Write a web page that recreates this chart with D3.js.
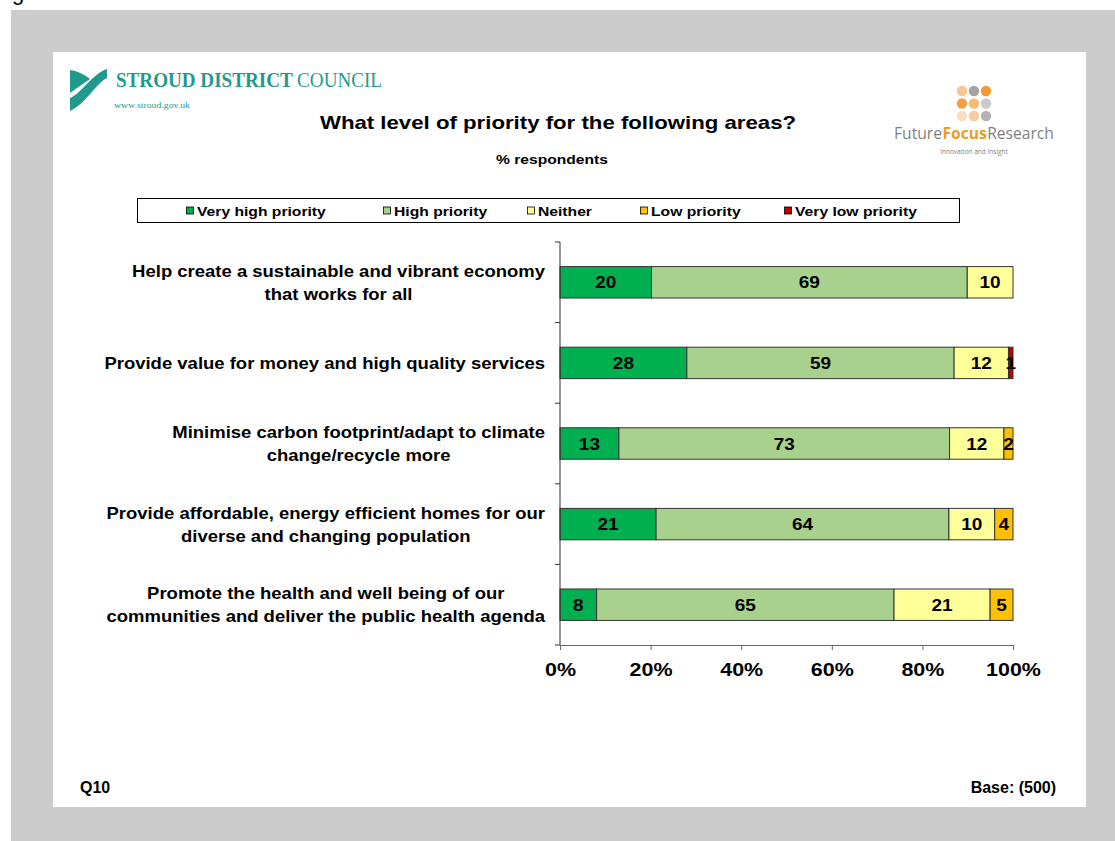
<!DOCTYPE html>
<html>
<head>
<meta charset="utf-8">
<script src="https://cdn.jsdelivr.net/npm/d3@7"></script>
<style>
  html, body { margin: 0; padding: 0; background: #ffffff; }
  svg { display: block; font-family: "Liberation Sans", Arial, Helvetica, sans-serif; }
</style>
</head>
<body>
<svg id="chart" width="1115" height="841"></svg>
<script>
// Survey question: priority given to each council area
const categories = [
  ["Help create a sustainable and vibrant economy", "that works for all"],
  ["Provide value for money and high quality services"],
  ["Minimise carbon footprint/adapt to climate", "change/recycle more"],
  ["Provide affordable, energy efficient homes for our", "diverse and changing population"],
  ["Promote the health and well being of our", "communities and deliver the public health agenda"]
];
const seriesNames = ["Very high priority", "High priority", "Neither", "Low priority", "Very low priority"];
const veryHigh = [20, 28, 13, 21, 8];
const high     = [69, 59, 73, 64, 65];
const neither  = [10, 12, 12, 10, 21];
const low      = [0, 0, 2, 4, 5];
const veryLow  = [0, 1, 0, 0, 0];
const xTicks   = [0, 0.2, 0.4, 0.6, 0.8, 1.0];
const colors   = ["#00B050", "#A9D18E", "#FFFF99", "#FFC000", "#C00000"];

// chart text is drawn slightly widened
function widen(sel, s) {
  sel.each(function () {
    const w = this.getComputedTextLength();
    d3.select(this).attr("textLength", w * s).attr("lengthAdjust", "spacingAndGlyphs");
  });
  return sel;
}

const svg = d3.select("#chart");

// Page frame: grey surround with a white slide
svg.append("rect").attr("x", 11).attr("y", 10).attr("width", 1104).attr("height", 831).attr("fill", "#cccccc");
svg.append("rect").attr("x", 53).attr("y", 52).attr("width", 1033).attr("height", 755).attr("fill", "#ffffff");
svg.append("text").attr("x", 12).attr("y", 0).attr("font-size", 22).attr("fill", "#000").text("g");

// Stroud District Council logo
const teal = "#1F9A8C";
svg.append("path").attr("fill", teal)
  .attr("d", "M70,70 C78,71 85,75 90,79 L70,93 Z");
svg.append("path").attr("fill", teal)
  .attr("d", "M70,111 L70,98 C82,93 92,74 107,69 L107,78 C95,84 86,104 70,111 Z");
const sdc = svg.append("text").attr("x", 116).attr("y", 87)
  .style("font-family", "'Liberation Serif', 'Times New Roman', serif")
  .attr("font-size", 20).attr("fill", teal)
  .attr("textLength", 266).attr("lengthAdjust", "spacingAndGlyphs");
sdc.append("tspan").attr("font-weight", "bold").text("STROUD DISTRICT ");
sdc.append("tspan").text("COUNCIL");
svg.append("text").attr("x", 114).attr("y", 108)
  .style("font-family", "'Liberation Serif', 'Times New Roman', serif")
  .attr("font-size", 8.5).attr("fill", teal)
  .attr("textLength", 76).attr("lengthAdjust", "spacingAndGlyphs")
  .text("www.stroud.gov.uk");

// Future Focus Research logo
const dotColors = [
  ["#F7C58E", "#A3A3A3", "#F39B2F"],
  ["#F4A042", "#F7BB74", "#CBCBCB"],
  ["#F9DCC3", "#F6CBA3", "#B3B3B3"]
];
dotColors.forEach((row, r) => row.forEach((c, k) => {
  svg.append("circle").attr("cx", 962 + k * 12).attr("cy", 91 + r * 12.5).attr("r", 5.2).attr("fill", c);
}));
// wordmark: three words, font sized so the set spans a fixed width
const wordmark = [
  { t: "Future", c: "#7f7f7f", w: "normal" },
  { t: "Focus", c: "#F39A1E", w: "bold" },
  { t: "Research", c: "#7f7f7f", w: "normal" }
];
const wmNodes = wordmark.map(p => svg.append("text").attr("y", 139)
  .style("font-family", "'Open Sans', 'Noto Sans', sans-serif")
  .attr("font-size", 17.5).attr("font-weight", p.w).attr("fill", p.c).text(p.t));
const wmScale = 159 / d3.sum(wmNodes, n => n.node().getComputedTextLength());
wmNodes.forEach(n => n.attr("font-size", 17.5 * wmScale));
let wmX = 894;
wmNodes.forEach(n => {
  n.attr("x", wmX);
  wmX += n.node().getComputedTextLength() + 0.5;
});
svg.append("text").attr("x", 974).attr("y", 154).attr("text-anchor", "middle")
  .style("font-family", "'Open Sans', 'Noto Sans', sans-serif")
  .attr("font-size", 6.5).attr("fill", "#808080").text("Innovation and Insight");

// Titles
widen(svg.append("text").attr("x", 558).attr("y", 129).attr("text-anchor", "middle")
  .attr("font-size", 18.5).attr("font-weight", "bold").text("What level of priority for the following areas?"), 1.2);
widen(svg.append("text").attr("x", 552).attr("y", 164).attr("text-anchor", "middle")
  .attr("font-size", 13).attr("font-weight", "bold").text("% respondents"), 1.2);

// Legend
svg.append("rect").attr("x", 137.5).attr("y", 198.5).attr("width", 822).attr("height", 24)
  .attr("fill", "#fff").attr("stroke", "#000").attr("stroke-width", 1);
const legendX = [187, 384, 528, 641, 785];
seriesNames.forEach((name, i) => {
  const g = svg.append("g").attr("transform", `translate(${legendX[i]},210.5)`);
  g.append("rect").attr("x", -0.5).attr("y", -3.5).attr("width", 7).attr("height", 7)
    .attr("fill", colors[i]).attr("stroke", "#000").attr("stroke-width", 0.8);
  widen(g.append("text").attr("x", 10).attr("y", 5).attr("font-size", 13.5).attr("font-weight", "bold").text(name), 1.16);
});

// Chart area
const x0 = 560, x1 = 1013, yTop = 242, yBot = 645;
const rows = categories.map((c, i) => ({
  idx: i,
  "Very high priority": veryHigh[i],
  "High priority": high[i],
  "Neither": neither[i],
  "Low priority": low[i],
  "Very low priority": veryLow[i]
}));
const stack = d3.stack().keys(seriesNames).offset(d3.stackOffsetExpand);
const stacked = stack(rows);

const x = d3.scaleLinear().domain([0, 1]).range([x0, x1]);
const y = d3.scaleBand().domain(d3.range(categories.length)).range([yTop, yBot]).paddingInner(0.61).paddingOuter(0.305);

const layers = svg.append("g").selectAll("g").data(stacked).join("g")
  .attr("fill", (d, i) => colors[i]);
layers.selectAll("rect").data(d => d.filter(p => p[1] - p[0] > 0)).join("rect")
  .attr("x", p => x(p[0]))
  .attr("y", p => y(p.data.idx))
  .attr("width", p => x(p[1]) - x(p[0]))
  .attr("height", y.bandwidth())
  .attr("stroke", "#333").attr("stroke-width", 1);

// Value labels
stacked.forEach((layer, li) => {
  const vals = [veryHigh, high, neither, low, veryLow][li];
  layer.forEach((p, ri) => {
    if (vals[ri] <= 0) return;
    widen(svg.append("text")
      .attr("x", x((p[0] + p[1]) / 2))
      .attr("y", y(ri) + y.bandwidth() / 2 + 6)
      .attr("text-anchor", "middle").attr("font-size", 16.5).attr("font-weight", "bold")
      .text(vals[ri]), 1.15);
  });
});

// Axes
const xAxis = d3.axisBottom(x).tickValues(xTicks).tickFormat(d3.format(".0%")).tickSize(5).tickSizeOuter(0);
const gx = svg.append("g").attr("transform", `translate(0,${yBot})`).call(xAxis);
gx.select(".domain").attr("stroke", "#666");
gx.selectAll(".tick line").attr("stroke", "#666");
gx.selectAll(".tick text").attr("font-size", 19).attr("font-weight", "bold").attr("fill", "#000")
  .attr("font-family", "'Liberation Sans', Arial, sans-serif").attr("y", 31).attr("dy", null);
widen(gx.selectAll(".tick text"), 1.13);

// Category axis with ticks between bars
const gy = svg.append("g").attr("transform", `translate(${x0},0)`);
gy.append("line").attr("x1", 0).attr("x2", 0).attr("y1", yTop).attr("y2", yBot).attr("stroke", "#333");
const step = (yBot - yTop) / categories.length;
d3.range(categories.length + 1).forEach(i => {
  gy.append("line").attr("x1", -5).attr("x2", 0).attr("y1", yTop + i * step).attr("y2", yTop + i * step).attr("stroke", "#333");
});

// Category labels: block right-aligned, lines centred to each other
const labelStretch = 1.12;
categories.forEach((lines, i) => {
  const cy = y(i) + y.bandwidth() / 2;
  const lh = 23;
  const tmp = lines.map(l => svg.append("text").attr("font-size", 16.5).attr("font-weight", "bold").text(l));
  const widths = tmp.map(t => t.node().getComputedTextLength() * labelStretch);
  const maxW = d3.max(widths);
  const cx = 545 - maxW / 2;
  tmp.forEach((t, k) => {
    t.attr("x", cx).attr("text-anchor", "middle")
      .attr("y", cy + (k - (lines.length - 1) / 2) * lh + 6)
      .attr("textLength", widths[k]).attr("lengthAdjust", "spacingAndGlyphs");
  });
});

// Footer
svg.append("text").attr("x", 80).attr("y", 793).attr("font-size", 16).attr("font-weight", "bold").text("Q10");
svg.append("text").attr("x", 1056).attr("y", 793).attr("text-anchor", "end")
  .attr("font-size", 16).attr("font-weight", "bold").text("Base: (500)");
</script>
</body>
</html>
